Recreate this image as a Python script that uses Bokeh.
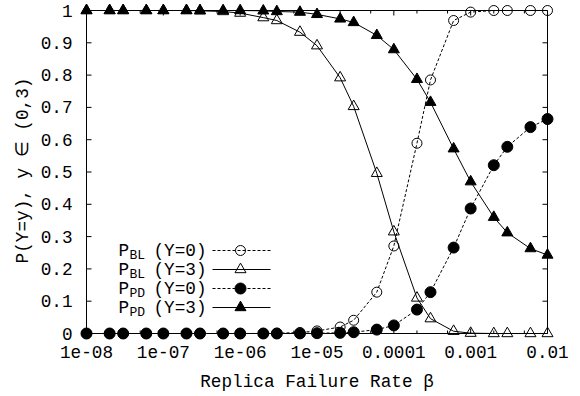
import math
from bokeh.plotting import figure
from bokeh.models import Range1d, FixedTicker, Label
from bokeh.embed import file_html
from bokeh.resources import INLINE

# ---------------- data ----------------
X = [1e-8, 2e-8, 3e-8, 6e-8,
     1e-7, 2e-7, 3e-7, 6e-7,
     1e-6, 2e-6, 3e-6, 6e-6,
     1e-5, 2e-5, 3e-5, 6e-5,
     1e-4, 2e-4, 3e-4, 6e-4,
     1e-3, 2e-3, 3e-3, 6e-3,
     1e-2]
P_BL_Y0 = [0, 0, 0, 0,
           0, 0, 0, 0,
           0, 0.0003, 0.0008, 0.003,
           0.008, 0.02, 0.041, 0.128,
           0.271, 0.589, 0.785, 0.969,
           0.995, 1.0, 1.0, 1.0,
           1.0]
P_BL_Y3 = [1, 1, 1, 1,
           1, 1.0, 0.999, 0.997,
           0.992, 0.978, 0.969, 0.933,
           0.891, 0.792, 0.703, 0.496,
           0.315, 0.110, 0.046, 0.007,
           0.001, 0, 0, 0,
           0]
P_PD_Y0 = [0, 0, 0, 0,
           0, 0, 0, 0,
           0, 0, 0, 0.0003,
           0.001, 0.002, 0.004, 0.012,
           0.025, 0.074, 0.128, 0.266,
           0.387, 0.521, 0.578, 0.639,
           0.664]
P_PD_Y3 = [1, 1, 1, 1,
           1, 1, 1, 1,
           1, 0.999, 0.997, 0.995,
           0.988, 0.974, 0.963, 0.923,
           0.879, 0.787, 0.716, 0.572,
           0.470, 0.360, 0.312, 0.263,
           0.243]

X_TICKS = [1e-8, 1e-7, 1e-6, 1e-5, 1e-4, 1e-3, 1e-2]
X_TICK_LABELS = ["1e-08", "1e-07", "1e-06", "1e-05", "0.0001", "0.001", "0.01"]
X_MINOR = [2e-8, 5e-8, 2e-7, 5e-7, 2e-6, 5e-6, 2e-5, 5e-5, 2e-4, 5e-4, 2e-3, 5e-3]
Y_TICKS = [0, 0.1, 0.2, 0.3, 0.4, 0.5, 0.6, 0.7, 0.8, 0.9, 1]
Y_TICK_LABELS = ["0", "0.1", "0.2", "0.3", "0.4", "0.5", "0.6", "0.7", "0.8", "0.9", "1"]

SUB = ["BL", "BL", "PD", "PD"]
TAIL = ["(Y=0)", "(Y=3)", "(Y=0)", "(Y=3)"]
X_LABEL = "Replica Failure Rate \u03b2"
Y_LABEL = "P(Y=y), y \u2208 (0,3)"

# ---------------- layout ----------------
FONT = "Liberation Mono"
FS = "17.7px"
W, H = 580, 396
BLM, BRM, BTM, BBM = 79, 26, 0, 56
PADX = 7
PAD_TOP, PAD_BOT = 10, 7
frame_w = W - BLM - BRM
frame_h = H - BTM - BBM
box_w = frame_w - 2 * PADX
box_h = frame_h - PAD_TOP - PAD_BOT
lx0, lx1 = math.log10(X_TICKS[0]), math.log10(X_TICKS[-1])
dpp = (lx1 - lx0) / box_w
ypp = (Y_TICKS[-1] - Y_TICKS[0]) / box_h
x_range = Range1d(10 ** (lx0 - PADX * dpp), 10 ** (lx1 + PADX * dpp))
y_range = Range1d(Y_TICKS[0] - PAD_BOT * ypp, Y_TICKS[-1] + PAD_TOP * ypp)


def fx(px):
    return 10 ** (lx0 + (px - (BLM + PADX)) * dpp)


def fy(py):
    return Y_TICKS[-1] - (py - (BTM + PAD_TOP)) * ypp


p = figure(width=W, height=H, x_axis_type="log", x_range=x_range, y_range=y_range,
           output_backend="svg", toolbar_location=None,
           min_border_left=BLM, min_border_right=BRM, min_border_top=BTM, min_border_bottom=BBM)
p.grid.visible = False
p.outline_line_color = None
p.background_fill_color = "white"
p.border_fill_color = "white"

for ax in (p.xaxis[0], p.yaxis[0]):
    ax.axis_line_color = None
    ax.major_tick_in = 0
    ax.major_tick_out = 0
    ax.minor_tick_in = 0
    ax.minor_tick_out = 0
    ax.major_label_text_font = FONT
    ax.major_label_text_font_size = FS
    ax.major_label_text_color = "black"
    ax.axis_label_text_font = FONT
    ax.axis_label_text_font_size = FS
    ax.axis_label_text_font_style = "normal"
    ax.axis_label_text_color = "black"

p.xaxis.ticker = FixedTicker(ticks=X_TICKS, minor_ticks=[])
p.xaxis.major_label_overrides = dict(zip(X_TICKS, X_TICK_LABELS))
p.xaxis.major_label_standoff = 5
p.xaxis.axis_label = X_LABEL
p.xaxis.axis_label_standoff = 11

p.yaxis.ticker = FixedTicker(ticks=Y_TICKS, minor_ticks=[])
p.yaxis.major_label_overrides = dict(zip(Y_TICKS, Y_TICK_LABELS))
p.yaxis.major_label_standoff = 7
p.yaxis.axis_label = Y_LABEL
p.yaxis.axis_label_standoff = 5

# box
p.quad(left=[X_TICKS[0]], right=[X_TICKS[-1]], bottom=[Y_TICKS[0]], top=[Y_TICKS[-1]],
       fill_color=None, line_color="black", line_width=1)
# inward ticks
n = len(Y_TICKS)
p.ray(x=[X_TICKS[0]] * n, y=Y_TICKS, length=5, angle=0, length_units="screen", line_color="black")
p.ray(x=[X_TICKS[-1]] * n, y=Y_TICKS, length=5, angle=math.pi, length_units="screen", line_color="black")
m = len(X_TICKS)
p.ray(x=X_TICKS, y=[Y_TICKS[0]] * m, length=5, angle=math.pi / 2, length_units="screen", line_color="black")
p.ray(x=X_TICKS, y=[Y_TICKS[-1]] * m, length=5, angle=-math.pi / 2, length_units="screen", line_color="black")
k = len(X_MINOR)
p.ray(x=X_MINOR, y=[Y_TICKS[0]] * k, length=3, angle=math.pi / 2, length_units="screen", line_color="black")
p.ray(x=X_MINOR, y=[Y_TICKS[-1]] * k, length=3, angle=-math.pi / 2, length_units="screen", line_color="black")

STYLES = [
    dict(ys=P_BL_Y0, dash="3 2", marker="circle", fill=None, size=10),
    dict(ys=P_BL_Y3, dash="solid", marker="triangle", fill=None, size=11),
    dict(ys=P_PD_Y0, dash="3 2", marker="circle", fill="black", size=11),
    dict(ys=P_PD_Y3, dash="solid", marker="triangle", fill="black", size=11),
]

for s in STYLES:
    p.line(X, s["ys"], line_color="black", line_width=1, line_dash=s["dash"])
    p.scatter(X, s["ys"], marker=s["marker"], size=s["size"], line_color="black",
              fill_color=s["fill"], line_width=1)

# legend (manual, for subscripts)
ROWS = [250, 269, 288, 307]
for i, s in enumerate(STYLES):
    r = ROWS[i]
    p.add_layout(Label(x=fx(118), y=fy(r), text="P", text_font=FONT, text_font_size=FS,
                       text_baseline="middle", text_color="black"))
    p.add_layout(Label(x=fx(129), y=fy(r + 5), text=SUB[i], text_font=FONT, text_font_size="13px",
                       text_baseline="middle", text_color="black"))
    p.add_layout(Label(x=fx(153), y=fy(r), text=TAIL[i], text_font=FONT, text_font_size=FS,
                       text_baseline="middle", text_color="black"))
    p.line([fx(212), fx(270)], [fy(r), fy(r)], line_color="black", line_width=1, line_dash=s["dash"])
    p.scatter([fx(240)], [fy(r)], marker=s["marker"], size=s["size"], line_color="black",
              fill_color=s["fill"], line_width=1)

open("out.html", "w").write(file_html(p, INLINE))
